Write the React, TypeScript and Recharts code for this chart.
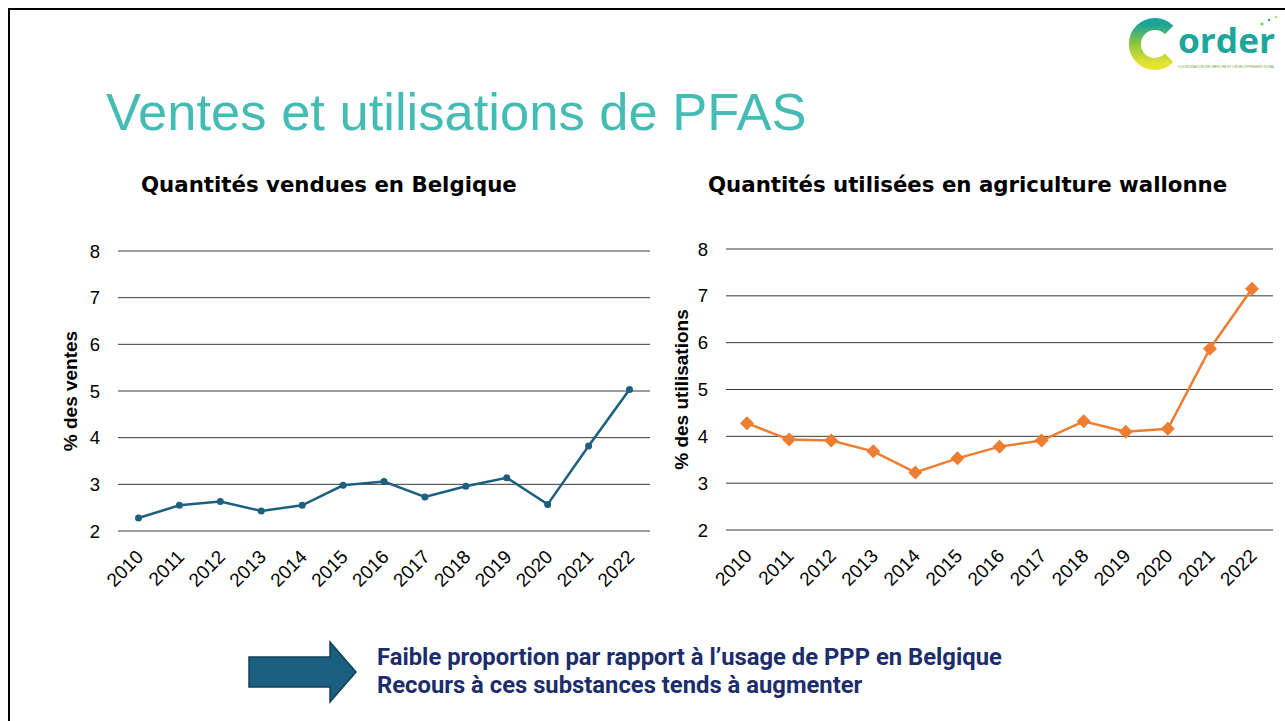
import React from 'react';
import { LineChart, Line, XAxis, YAxis, CartesianGrid } from 'recharts';

const years = ['2010', '2011', '2012', '2013', '2014', '2015', '2016', '2017', '2018', '2019', '2020', '2021', '2022'];
const ventesBelgique = [2.28, 2.55, 2.63, 2.43, 2.55, 2.98, 3.06, 2.73, 2.96, 3.14, 2.57, 3.82, 5.03];
const utilisationsWallonie = [4.28, 3.93, 3.91, 3.68, 3.23, 3.53, 3.78, 3.91, 4.32, 4.1, 4.16, 5.87, 7.15];
const yTicks = [2, 3, 4, 5, 6, 7, 8];

const ventesData = years.map((year, i) => ({ year, value: ventesBelgique[i] }));
const utilisationsData = years.map((year, i) => ({ year, value: utilisationsWallonie[i] }));

const BLUE = '#1d5f7f';
const ORANGE = '#ed7d31';
const AXIS_FONT = '"Liberation Sans", Arial, sans-serif';

const YearTick = (props: any) => {
  const { x, y, payload } = props;
  return (
    <g transform={`translate(${x + 6},${y + 19})`}>
      <text textAnchor="end" transform="rotate(-45)" fontSize={19} fill="#000" fontFamily={AXIS_FONT}>
        {payload.value}
      </text>
    </g>
  );
};

const Diamond = (props: any) => {
  const { cx, cy, index } = props;
  const s = 7;
  return (
    <polygon
      key={`d-${index}`}
      points={`${cx},${cy - s} ${cx + s},${cy} ${cx},${cy + s} ${cx - s},${cy}`}
      fill={ORANGE}
    />
  );
};

const chartTitle: React.CSSProperties = {
  position: 'absolute',
  top: 174,
  fontFamily: '"DejaVu Sans", sans-serif',
  fontWeight: 700,
  fontSize: 21.3,
  lineHeight: 1,
  color: '#000',
  whiteSpace: 'nowrap',
};

const yLabelStyle = { textAnchor: 'middle', fontWeight: 700, fontSize: 19, fill: '#000', fontFamily: AXIS_FONT };

const Logo = () => (
  <svg width={160} height={62} style={{ position: 'absolute', left: 1126, top: 14 }}>
    <defs>
      <linearGradient id="cgrad" x1="0" y1="0" x2="0" y2="1">
        <stop offset="0%" stopColor="#1aa39a" />
        <stop offset="50%" stopColor="#8cc63f" />
        <stop offset="100%" stopColor="#e6e332" />
      </linearGradient>
    </defs>
    <path d="M 43.1 15.9 A 20 20 0 1 0 43.1 44.1" fill="none" stroke="url(#cgrad)" strokeWidth={12} />
    <text
      x={52}
      y={39}
      fontFamily='"Open Sans", sans-serif'
      fontWeight={700}
      fontSize={34}
      fill="#1ba79c"
      textLength={97}
      lengthAdjust="spacingAndGlyphs"
    >
      order
    </text>
    <text x={52} y={54} fontFamily={AXIS_FONT} fontSize={3.5} fill="#7aa33a" textLength={97} lengthAdjust="spacingAndGlyphs">
      COORDINATION RECHERCHE ET DÉVELOPPEMENT RURAL
    </text>
    <circle cx={136} cy={10} r={1.5} fill="#8cc63f" />
    <circle cx={143} cy={6} r={1.2} fill="#1ba79c" />
    <circle cx={150} cy={3} r={1} fill="#8cc63f" />
  </svg>
);

export default function App() {
  return (
    <div
      style={{
        position: 'absolute',
        left: 0,
        top: 0,
        width: 1285,
        height: 721,
        background: '#fff',
        overflow: 'hidden',
      }}
    >
      <div
        style={{
          position: 'absolute',
          left: 8,
          top: 8,
          width: 1400,
          height: 800,
          borderLeft: '2.5px solid #000',
          borderTop: '2.5px solid #000',
        }}
      />
      <Logo />
      <div
        style={{
          position: 'absolute',
          left: 106,
          top: 86,
          fontFamily: AXIS_FONT,
          fontSize: 52.5,
          lineHeight: 1,
          color: '#45bcb3',
          whiteSpace: 'nowrap',
        }}
      >
        Ventes et utilisations de PFAS
      </div>

      <div style={{ ...chartTitle, left: 141 }}>Quantités vendues en Belgique</div>
      <div style={{ ...chartTitle, left: 708 }}>Quantités utilisées en agriculture wallonne</div>

      <div style={{ position: 'absolute', left: 50, top: 230 }}>
        <LineChart width={610} height={366} data={ventesData} margin={{ top: 21, right: 10, bottom: 5, left: 0 }}>
          <CartesianGrid vertical={false} stroke="#3a3a3a" />
          <XAxis
            dataKey="year"
            axisLine={false}
            tickLine={false}
            interval={0}
            height={60}
            padding={{ left: 20.5, right: 20.5 }}
            tick={<YearTick />}
          />
          <YAxis
            domain={[2, 8]}
            ticks={yTicks}
            width={68}
            axisLine={false}
            tickLine={false}
            tickMargin={12}
            tick={{ fontSize: 18.5, fill: '#000', fontFamily: AXIS_FONT }}
            label={{ value: '% des ventes', angle: -90, position: 'insideLeft', offset: 20, style: yLabelStyle }}
          />
          <Line
            type="linear"
            dataKey="value"
            stroke={BLUE}
            strokeWidth={2.5}
            dot={{ r: 3.5, fill: BLUE, stroke: BLUE, strokeWidth: 0 }}
            isAnimationActive={false}
          />
        </LineChart>
      </div>

      <div style={{ position: 'absolute', left: 660, top: 230 }}>
        <LineChart width={618} height={365} data={utilisationsData} margin={{ top: 19, right: 5, bottom: 5, left: 0 }}>
          <CartesianGrid vertical={false} stroke="#3a3a3a" />
          <XAxis
            dataKey="year"
            axisLine={false}
            tickLine={false}
            interval={0}
            height={60}
            padding={{ left: 21, right: 21 }}
            tick={<YearTick />}
          />
          <YAxis
            domain={[2, 8]}
            ticks={yTicks}
            width={66}
            axisLine={false}
            tickLine={false}
            tickMargin={12}
            tick={{ fontSize: 18.5, fill: '#000', fontFamily: AXIS_FONT }}
            label={{ value: '% des utilisations', angle: -90, position: 'insideLeft', offset: 21, style: yLabelStyle }}
          />
          <Line
            type="linear"
            dataKey="value"
            stroke={ORANGE}
            strokeWidth={2.5}
            dot={<Diamond />}
            isAnimationActive={false}
          />
        </LineChart>
      </div>

      <svg width={112} height={64} style={{ position: 'absolute', left: 247, top: 640 }}>
        <polygon
          points="2,17 83,17 83,2 109,32 83,62 83,47 2,47"
          fill="#1a5f80"
          stroke="#123f55"
          strokeWidth={1.5}
        />
      </svg>
      <div
        style={{
          position: 'absolute',
          left: 377,
          top: 643,
          fontFamily: 'Roboto, sans-serif',
          fontWeight: 700,
          fontSize: 23.8,
          lineHeight: '28px',
          color: '#1b2d6b',
          whiteSpace: 'nowrap',
        }}
      >
        <div>Faible proportion par rapport à l’usage de PPP en Belgique</div>
        <div>Recours à ces substances tends à augmenter</div>
      </div>
    </div>
  );
}
